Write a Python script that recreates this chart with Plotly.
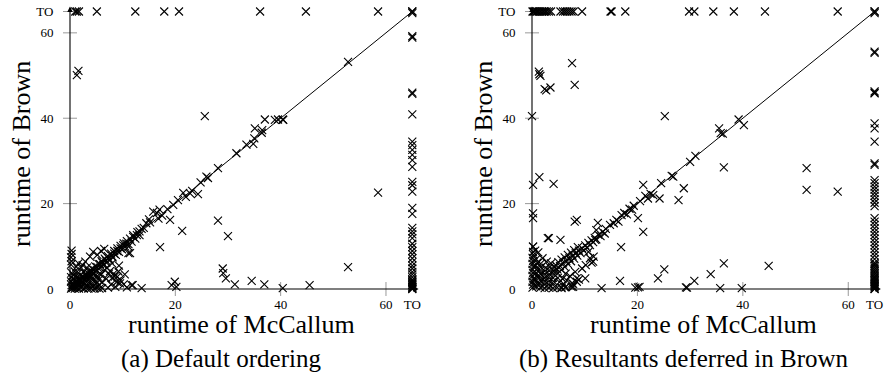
import plotly.graph_objects as go

TO = 65
tick_vals = [0, 20, 40, 60, TO]
tick_text = ["0", "20", "40", "60", "TO"]

# ---------- panel (a) Default ordering ----------
a_to_row_x = [1.0, 1.3, 1.7, 5.1, 12.4, 17.9, 20.7, 36.1, 44.8, 58.5, 65.0]
a_to_col_y = [65.0, 64.6, 58.9, 59.2, 46.0, 45.7, 40.9, 34.5, 33.7, 32.6, 31.4, 30.2, 28.6, 25.1,
              24.3, 22.8, 19.0, 17.6, 14.3, 13.5, 12.8, 11.9, 10.6, 9.8, 8.9, 8.1, 7.2, 6.3, 5.5,
              4.8, 4.0, 3.4, 2.8, 2.2, 1.7, 1.3, 0.9, 0.6, 0.3, 0.1, 0.0, 0.4, 1.0, 1.5, 2.0]
a_outliers = [(1.6, 51.1), (1.3, 50.1), (25.6, 40.5), (35.1, 37.6), (36.4, 36.6), (37.0, 39.7),
              (38.9, 39.6), (39.5, 39.7), (40.5, 39.6), (34.8, 34.0), (52.8, 53.2), (40.4, 39.7),
              (58.5, 22.6), (52.8, 5.1), (45.5, 0.9), (40.4, 0.2), (28.1, 16.0), (30.0, 12.4),
              (29.0, 4.8), (29.1, 3.7), (29.6, 2.5), (31.3, 1.1), (34.5, 1.9), (36.9, 1.1),
              (21.3, 13.6), (17.1, 9.8), (19.0, 16.2), (24.3, 22.2), (19.9, 1.7), (19.3, 0.9),
              (20.2, 0.5), (13.6, 0.2), (11.9, 0.9), (9.5, 1.3), (9.2, 4.1), (8.5, 2.9), (8.9, 1.7),
              (28.1, 28.3), (25.9, 26.3), (26.2, 26.0), (31.6, 31.8), (22.8, 22.4), (23.2, 23.0),
              (22.0, 21.6), (19.6, 19.7), (15.8, 18.1), (16.5, 17.8), (17.5, 17.2), (14.5, 15.4),
              (15.2, 15.6), (12.7, 12.6), (13.2, 13.5), (12.0, 12.2), (11.1, 9.9), (11.1, 8.4),
              (18.5, 18.7), (20.5, 20.8), (21.5, 22.5), (16.8, 16.5), (14.0, 14.3), (24.8, 25.0),
              (33.5, 33.8), (35.0, 35.3), (36.5, 37.2), (17.0, 18.6), (15.0, 16.3)]
a_blob = [(0.3, 0.4), (0.6, 1.1), (0.9, 0.5), (1.2, 1.9), (1.5, 1.0), (1.8, 2.4), (2.1, 1.5),
          (2.4, 2.9), (2.7, 2.1), (3.0, 3.6), (3.3, 2.6), (3.6, 4.1), (3.9, 3.2), (4.2, 4.7),
          (4.5, 3.8), (4.8, 5.3), (5.1, 4.4), (5.4, 5.9), (5.7, 5.0), (6.0, 6.5), (6.3, 5.6),
          (6.6, 7.1), (6.9, 6.2), (7.2, 7.7), (7.5, 6.8), (7.8, 8.3), (8.1, 7.4), (8.4, 8.9),
          (8.7, 8.0), (9.0, 9.5), (9.3, 8.7), (9.6, 10.1), (9.9, 9.3), (10.2, 10.7), (10.5, 9.9),
          (10.8, 11.2), (11.1, 10.5), (11.4, 11.8), (11.7, 11.1), (12.0, 12.6), (12.4, 11.8),
          (12.8, 13.3), (13.2, 12.6), (13.6, 14.1),
          (0.5, 0.8), (1.0, 1.4), (1.4, 1.6), (2.0, 2.1), (2.5, 2.6), (3.1, 3.0), (3.6, 3.5),
          (4.1, 4.2), (4.6, 4.5), (5.2, 5.1), (5.7, 5.8), (6.2, 6.1), (6.8, 6.7), (7.3, 7.2),
          (7.9, 7.8), (8.4, 8.3), (9.0, 8.9), (9.6, 9.5), (10.1, 10.2), (10.7, 10.6),
          (0.2, 0.1), (0.5, 0.2), (0.9, 0.1), (1.3, 0.2), (1.7, 0.1), (2.1, 0.3), (2.6, 0.1),
          (3.0, 0.3), (3.5, 0.1), (4.0, 0.2), (4.6, 0.1), (5.1, 0.3), (5.6, 0.1), (6.1, 0.2),
          (0.3, 0.9), (0.7, 1.2), (1.1, 0.8), (1.6, 1.3), (2.2, 0.9), (2.8, 1.2), (3.3, 0.8),
          (3.9, 1.1), (4.4, 0.8), (5.0, 1.2), (5.6, 0.9),
          (0.2, 1.8), (0.6, 2.3), (1.0, 2.0), (1.9, 2.0), (2.5, 1.7), (3.1, 2.0), (3.7, 1.8),
          (4.3, 2.1), (4.9, 1.9), (5.5, 2.2), (6.0, 1.6),
          (0.2, 2.8), (0.7, 3.2), (1.4, 2.9), (2.0, 3.3), (3.4, 3.0), (4.0, 2.8), (4.7, 3.1),
          (5.3, 2.9), (5.9, 3.3), (0.3, 3.8), (0.9, 4.1), (1.6, 3.8), (2.6, 3.9), (4.4, 3.6),
          (5.6, 3.6),
          (0.3, 9.0), (0.3, 8.2), (0.2, 5.7), (0.3, 6.5), (0.2, 7.4), (3.8, 7.6), (4.4, 8.7),
          (5.2, 8.0), (5.9, 8.9), (6.5, 9.4), (2.9, 6.4), (2.1, 5.0), (11.4, 8.4), (7.0, 5.0),
          (7.6, 4.2), (8.3, 3.6), (9.0, 2.9), (9.6, 2.0), (10.2, 1.1), (10.8, 0.4), (7.8, 1.0),
          (8.6, 0.5), (6.9, 2.4), (11.7, 0.9), (10.4, 3.4), (9.3, 5.5), (8.0, 6.0), (7.2, 0.3),
          (1.2, 5.2), (1.6, 6.0), (2.4, 5.6), (3.2, 5.0), (6.6, 4.4), (7.4, 3.6), (8.0, 2.6)]

# ---------- panel (b) Resultants deferred in Brown ----------
b_to_row_x = [0.1, 0.3, 0.5, 0.8, 1.0, 1.3, 1.6, 1.9, 2.2, 2.5, 2.8, 3.2, 3.6, 5.4, 5.9, 6.3, 6.7,
              7.1, 7.5, 7.9, 9.5, 14.9, 15.1, 17.7, 29.8, 30.8, 34.4, 38.3, 44.2, 58.0, 65.0]
b_to_col_y = [65.0, 64.6, 55.6, 55.3, 46.3, 46.0, 45.8, 38.8, 37.6, 34.5, 29.4, 29.1, 25.5, 24.8,
              24.0, 23.3, 22.5, 21.8, 21.0, 20.2, 19.4, 16.6, 15.8, 15.0, 14.2, 13.4, 12.6, 11.8,
              11.0, 10.2, 9.4, 8.6, 7.8, 7.0, 6.2, 5.4, 4.6, 3.8, 3.0, 2.4, 1.8, 1.2, 0.8, 0.4,
              0.1, 0.0, 0.6, 1.0, 1.5, 2.1, 2.7, 3.4, 4.2, 5.0, 5.8]
b_outliers = [(1.3, 50.9), (1.6, 49.9), (1.4, 50.3), (7.6, 52.9), (8.1, 47.8), (2.4, 46.8),
              (3.5, 47.2), (2.7, 46.5), (0.0, 40.5), (25.2, 40.5), (35.5, 37.6), (35.8, 36.5),
              (39.2, 39.7), (40.2, 38.4), (52.1, 28.3), (52.1, 23.2), (58.0, 22.8), (44.9, 5.4),
              (39.8, 0.2), (36.4, 28.5), (36.4, 6.0), (33.9, 3.5), (30.8, 1.9), (29.2, 0.4),
              (29.4, 0.3), (35.7, 0.2), (28.8, 23.6), (27.8, 20.8), (24.2, 21.2), (21.1, 24.4),
              (25.1, 4.6), (23.9, 2.5), (21.1, 13.4), (20.1, 16.6), (16.9, 9.8), (16.7, 1.9),
              (20.1, 0.4), (19.6, 0.3), (20.4, 0.5), (13.2, 0.2), (12.0, 11.5), (12.5, 15.5),
              (12.2, 13.8), (8.5, 16.2), (8.1, 15.8), (5.4, 11.5), (3.2, 11.9), (4.1, 24.6),
              (1.4, 26.2), (0.2, 24.4), (0.2, 16.6), (0.2, 17.7), (11.7, 7.6), (11.3, 6.2),
              (10.7, 8.7), (8.5, 1.7), (7.6, 1.3), (6.3, 0.4), (5.6, 0.4), (10.1, 2.5),
              (26.5, 26.5), (26.8, 26.3), (22.5, 22.3), (23.0, 22.0), (21.5, 21.8), (22.0, 21.2),
              (20.5, 20.6), (18.5, 18.8), (18.0, 17.5), (17.5, 17.8), (16.0, 16.2), (15.5, 15.4),
              (16.4, 15.8), (14.0, 14.1), (31.0, 31.2), (36.2, 36.4), (30.0, 29.8), (24.5, 24.8),
              (19.3, 19.5), (14.8, 15.0), (13.8, 13.0), (17.0, 17.3), (19.0, 18.6)]
b_blob = [(0.1, 0.3), (0.2, 1.0), (0.1, 1.7), (0.3, 2.4), (0.1, 3.1), (0.2, 3.8), (0.1, 4.5),
          (0.3, 5.2), (0.1, 5.9), (0.2, 6.6), (0.1, 7.3), (0.3, 8.0), (0.2, 9.9), (0.2, 8.7),
          (0.8, 0.6), (0.9, 1.4), (0.7, 2.2), (1.0, 3.0), (0.8, 3.8), (0.9, 4.6), (0.7, 5.4),
          (1.0, 6.2), (0.8, 7.0), (1.6, 0.3), (1.5, 1.1), (1.7, 1.9), (1.5, 2.7), (1.7, 3.5),
          (1.5, 4.3), (1.7, 5.1), (1.6, 5.9), (2.4, 0.2), (2.3, 1.0), (2.5, 1.8), (2.3, 2.6),
          (2.5, 3.4), (2.4, 4.2), (2.6, 5.0), (3.2, 0.3), (3.1, 1.1), (3.3, 1.9), (3.1, 2.7),
          (3.3, 3.5), (3.2, 4.3), (3.4, 5.1), (4.0, 0.2), (3.9, 1.0), (4.1, 1.8), (4.0, 2.6),
          (4.2, 3.4), (4.1, 4.2), (4.3, 5.0),
          (4.8, 4.6), (4.9, 3.7), (5.3, 5.4), (5.6, 4.5), (5.9, 6.0), (6.2, 5.2), (6.5, 6.6),
          (6.8, 5.9), (7.1, 7.2), (7.4, 6.5), (7.7, 7.8), (8.0, 7.1), (8.3, 8.4), (8.6, 7.8),
          (8.9, 9.0), (9.2, 8.4), (9.5, 9.6), (9.8, 9.0), (10.1, 10.2), (10.4, 9.7), (10.7, 10.8),
          (11.0, 10.3), (11.3, 11.4), (11.6, 11.0), (11.9, 12.0), (12.2, 11.6), (12.6, 12.7),
          (13.0, 12.4), (13.4, 13.4),
          (4.5, 5.6), (5.0, 6.3), (5.6, 6.9), (6.2, 7.4), (6.8, 8.0), (7.4, 8.5), (8.0, 9.1),
          (8.7, 9.8),
          (4.8, 0.4), (5.6, 0.2), (6.4, 0.5), (5.2, 1.6), (6.0, 1.2), (4.9, 2.6), (5.8, 2.4),
          (6.6, 2.0), (7.2, 3.0), (6.4, 3.6), (7.8, 1.2), (7.5, 0.5), (8.5, 2.5), (8.9, 2.2),
          (7.8, 0.5), (11.0, 7.2), (11.6, 6.4), (9.5, 4.8), (10.2, 5.6), (8.2, 4.0), (3.0, 11.9),
          (0.2, 9.9), (1.2, 8.6), (2.0, 7.2), (2.8, 6.4), (3.6, 6.0), (0.6, 9.0)]

panels = [
    dict(pts=a_outliers + a_blob, to_row=a_to_row_x, to_col=a_to_col_y,
         xa="x", ya="y", caption="(a) Default ordering"),
    dict(pts=b_outliers + b_blob, to_row=b_to_row_x, to_col=b_to_col_y,
         xa="x2", ya="y2", caption="(b) Resultants deferred in Brown"),
]

W, H = 885, 382
FONT = "Liberation Serif"
px_x = [(70, 412.3), (532, 874.6)]   # window pixels of value 0 and value TO
px_y = (289, 11.5)
TICK_GRAY = "#999999"
TITLE_SIZE = 26
CAPTION_SIZE = 25


def fx(px):
    return px / W


def fy(py):
    return (H - py) / H


fig = go.Figure()
for i, p in enumerate(panels):
    xs = [q[0] for q in p["pts"]] + p["to_row"] + [TO] * len(p["to_col"])
    ys = [q[1] for q in p["pts"]] + [TO] * len(p["to_row"]) + p["to_col"]
    kw = dict(xaxis=p["xa"], yaxis=p["ya"], showlegend=False, hoverinfo="skip", cliponaxis=False)
    fig.add_trace(go.Scatter(x=tick_vals[1:-1], y=[0] * 3, mode="markers",
                             marker=dict(symbol="line-ns-open", size=10, color=TICK_GRAY,
                                         line=dict(color=TICK_GRAY, width=1)), **kw))
    fig.add_trace(go.Scatter(x=[0] * 4, y=tick_vals[1:], mode="markers",
                             marker=dict(symbol="line-ew-open", size=10, color=TICK_GRAY,
                                         line=dict(color=TICK_GRAY, width=1)), **kw))
    fig.add_trace(go.Scatter(x=[0, TO], y=[0, TO], mode="lines",
                             line=dict(color="black", width=1), **kw))
    fig.add_trace(go.Scatter(x=xs, y=ys, mode="markers",
                             marker=dict(symbol="x-thin", size=8, color="black",
                                         line=dict(color="black", width=1.1)), **kw))

axis_common = dict(range=[0, TO], tickvals=tick_vals, ticktext=tick_text,
                   ticks="outside", ticklen=3, tickwidth=1, tickcolor="rgba(0,0,0,0)",
                   showgrid=False, zeroline=False, showline=False, automargin=False,
                   ticklabeloverflow="allow",
                   tickfont=dict(family=FONT, size=13, color="black"))

layout = dict(width=W, height=H, margin=dict(l=0, r=0, t=0, b=0), template="none",
              paper_bgcolor="white", plot_bgcolor="white", showlegend=False)
for i in range(2):
    sx = "" if i == 0 else "2"
    layout["xaxis" + sx] = dict(domain=[fx(px_x[i][0]), fx(px_x[i][1])], anchor="y" + sx,
                                ticklabelstandoff=0, **axis_common)
    layout["yaxis" + sx] = dict(domain=[fy(px_y[0]), fy(px_y[1])], anchor="x" + sx,
                                ticklabelstandoff=10, **axis_common)
fig.update_layout(**layout)

for i, p in enumerate(panels):
    xa, ya = p["xa"], p["ya"]
    fig.add_annotation(x=0, y=TO + 1.2, ax=0, ay=0, xref=xa, yref=ya, axref=xa, ayref=ya,
                       showarrow=True, arrowhead=2, arrowsize=1, arrowwidth=1.1,
                       arrowcolor="black", text="")
    fig.add_annotation(x=TO + 1.2, y=0, ax=0, ay=0, xref=xa, yref=ya, axref=xa, ayref=ya,
                       showarrow=True, arrowhead=2, arrowsize=1, arrowwidth=1.1,
                       arrowcolor="black", text="")
    cx = (px_x[i][0] + px_x[i][1]) / 2
    fig.add_annotation(x=fx(cx), y=fy(324), xref="paper", yref="paper", showarrow=False,
                       xanchor="center", yanchor="middle", text="runtime of McCallum",
                       font=dict(family=FONT, size=TITLE_SIZE, color="black"))
    fig.add_annotation(x=fx(21 if i == 0 else 483), y=fy(154), xref="paper",
                       yref="paper", showarrow=False, textangle=-90, xanchor="center",
                       yanchor="middle", text="runtime of Brown",
                       font=dict(family=FONT, size=TITLE_SIZE, color="black"))
    fig.add_annotation(x=fx(221 if i == 0 else 684), y=fy(359), xref="paper",
                       yref="paper", showarrow=False, xanchor="center", yanchor="middle",
                       text=p["caption"], font=dict(family=FONT, size=CAPTION_SIZE, color="black"))

# the default page body has an 8px margin; remove it so the figure fills the window exactly
fig.write_html("out.html", post_script="document.body.style.margin='0';",
               config={"displayModeBar": False})
